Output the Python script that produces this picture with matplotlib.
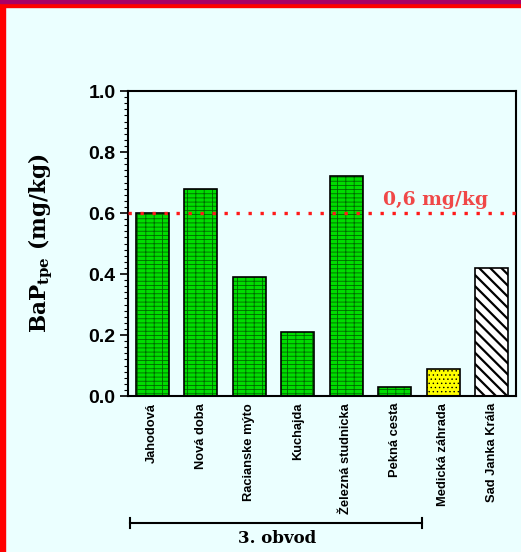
import matplotlib as mpl
mpl.use('Agg')
import matplotlib.pyplot as plt
from matplotlib.patches import Rectangle
from matplotlib.ticker import MultipleLocator

# data
sites = ['Jahodová', 'Nová doba', 'Racianske mýto', 'Kuchajda',
         'Železná studnicka', 'Pekná cesta', 'Medická záhrada', 'Sad Janka Krála']
bap = [0.60, 0.68, 0.39, 0.21, 0.72, 0.03, 0.09, 0.42]
limit = 0.6
limitLabel = '0,6 mg/kg'
groupLabel = '3. obvod'

mpl.rcParams['mathtext.fontset'] = 'dejavuserif'
bg = '#EBFFFF'
fig = plt.figure(figsize=(5.21, 5.52), dpi=100, facecolor=bg)
ax = fig.add_axes([0.2457, 0.2826, 0.7443, 0.5524])
ax.set_facecolor(bg)

faces = ['#00DD00'] * 6 + ['#FFFF00', 'white']
hatches = ['----||'] * 6 + ['....', '\\\\\\']
hcolors = ['#006600'] * 6 + ['black', 'black']
hlw = [0.6] * 6 + [0.5, 1.6]
x = range(len(sites))
for i in x:
    mpl.rcParams['hatch.linewidth'] = hlw[i]
    ax.bar(i, bap[i], width=0.68, color=faces[i], hatch=hatches[i],
           edgecolor=hcolors[i], linewidth=0, zorder=2)
    ax.bar(i, bap[i], width=0.68, fill=False, edgecolor='black',
           linewidth=1.2, zorder=3)

# limit line
ax.axhline(limit, color='#FF1A1A', linewidth=2.4, dashes=(1, 2.6),
           dash_capstyle='butt', zorder=4)
ax.text(5.85, 0.613, limitLabel, color='#F04848', fontsize=13.5,
        fontweight='bold', family='DejaVu Serif', ha='center', va='bottom')

ax.set_xlim(-0.5, 7.5)
ax.set_ylim(0, 1.0)
ax.yaxis.set_major_locator(MultipleLocator(0.2))
ax.yaxis.set_minor_locator(MultipleLocator(0.02))
ax.set_yticklabels(['%.1f' % v for v in ax.get_yticks()])
ax.tick_params(axis='y', which='major', direction='out', length=6, width=1.2,
               labelsize=14, pad=3)
ax.tick_params(axis='y', which='minor', direction='out', length=3, width=0.8)
for lab in ax.get_yticklabels():
    lab.set_fontweight('bold')
    lab.set_family('Liberation Sans')

ax.set_xticks(list(x))
ax.set_xticklabels(sites, rotation=90, fontsize=9.3, family='Liberation Sans',
                   fontweight='bold', va='top', ha='center')
ax.tick_params(axis='x', length=0, pad=5)

for s in ax.spines.values():
    s.set_linewidth(1.5)

ax.set_ylabel(r'BaP$_{\mathbf{tpe}}$ (mg/kg)', family='DejaVu Serif',
              fontweight='bold', fontsize=15.5, labelpad=24)

# group bracket
tr = ax.get_xaxis_transform()
ax.plot([-0.46, 5.56], [-0.416, -0.416], color='black', lw=1.5,
        transform=tr, clip_on=False)
for xe in (-0.46, 5.56):
    ax.plot([xe, xe], [-0.4, -0.432], color='black', lw=1.5,
            transform=tr, clip_on=False)
ax.text(2.58, -0.44, groupLabel, transform=tr, ha='center', va='top',
        family='DejaVu Serif', fontweight='bold', fontsize=12)

# frame
fig.patches.append(Rectangle((0, 0), 5, 552, transform=None, color='#FF0000'))
fig.patches.append(Rectangle((0, 545), 521, 7, transform=None, color='#FF0000'))
fig.patches.append(Rectangle((0, 549), 521, 3, transform=None, color='#AA0066'))

fig.savefig('out.png', dpi=100, facecolor=bg)
